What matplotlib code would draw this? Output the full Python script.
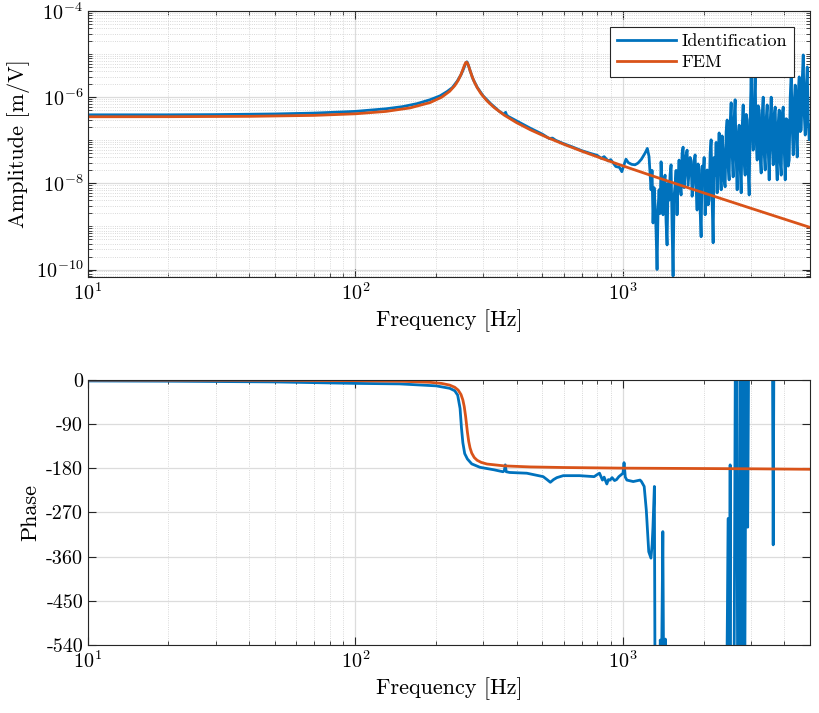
import matplotlib
matplotlib.use('Agg')
import matplotlib.pyplot as plt
import numpy as np
from matplotlib.ticker import LogLocator, NullFormatter

plt.rcParams['font.family'] = 'cmr10'
plt.rcParams['mathtext.fontset'] = 'cm'
plt.rcParams['axes.unicode_minus'] = False
plt.rcParams['axes.formatter.use_mathtext'] = True

# identification (measured) - frequency [Hz] and amplitude as log10 [m/V]
id_freq = [10, 20, 30, 50, 70, 100, 130, 150, 170, 190, 207, 220, 230, 240, 248, 254, 258, 261, 264,
           268, 275, 285, 300, 320, 345, 360, 364, 368, 400, 450, 500, 530, 545, 560, 600, 650, 700,
           750, 800, 830, 850, 880, 900, 940, 970, 990,
           1008.6, 1026.1, 1046.7, 1077.7, 1109.0, 1138.0, 1171.9, 1208.8, 1232.9, 1251.2,
           1273.0, 1284.0, 1295.1, 1306.4, 1317.7, 1329.1, 1340.6, 1352.2, 1363.9, 1375.7,
           1387.6, 1399.6, 1411.7, 1423.9, 1436.3, 1448.7, 1461.2, 1473.9, 1486.6, 1499.5,
           1512.5, 1525.6, 1538.8, 1552.1, 1565.5, 1579.1, 1592.8, 1606.6, 1620.4, 1634.5,
           1648.6, 1662.9, 1677.3, 1691.8, 1706.4, 1721.2, 1736.1, 1751.1, 1766.3, 1781.6,
           1797.0, 1812.6, 1828.2, 1844.1, 1860.0, 1876.1, 1892.3, 1908.7, 1925.2, 1941.9,
           1958.7, 1975.7, 1992.7, 2010.0, 2027.4, 2045.0, 2062.6, 2080.5, 2098.5, 2116.7,
           2135.0, 2153.5, 2172.1, 2190.9, 2209.8, 2229.0, 2248.3, 2267.8, 2287.4, 2307.2,
           2327.1, 2347.3, 2367.6, 2388.1, 2408.8, 2429.6, 2450.6, 2471.8, 2493.2, 2514.8,
           2536.6, 2558.5, 2580.7, 2603.0, 2625.5, 2648.3, 2671.2, 2694.3, 2717.6, 2741.1,
           2764.9, 2788.8, 2812.9, 2837.3, 2861.8, 2886.6, 2911.6, 2936.8, 2962.2, 2987.8,
           3013.7, 3039.8, 3066.1, 3092.6, 3119.4, 3146.4, 3173.6, 3201.1, 3228.8, 3256.7,
           3284.9, 3313.3, 3342.0, 3370.9, 3400.1, 3429.5, 3459.3, 3489.2, 3519.4, 3549.8,
           3580.6, 3611.5, 3642.9, 3674.3, 3706.2, 3738.2, 3770.6, 3803.2, 3836.2, 3869.3,
           3902.9, 3936.6, 3970.7, 4005.0, 4039.8, 4074.7, 4110.0, 4145.5, 4181.4, 4217.6,
           4254.1, 4290.9, 4328.1, 4365.5, 4403.3, 4441.4, 4479.9, 4518.6, 4557.8, 4597.2,
           4637.0, 4677.1, 4717.6, 4758.4, 4799.7, 4841.2, 4883.1, 4925.3, 4968.0, 5000]
id_amp_log = [-6.41, -6.41, -6.405, -6.39, -6.37, -6.33, -6.27, -6.22, -6.15, -6.06, -5.97, -5.87, -5.78,
              -5.63, -5.48, -5.33, -5.22, -5.18, -5.25, -5.38, -5.58, -5.77, -5.97, -6.15, -6.33, -6.40,
              -6.35, -6.43, -6.55, -6.72, -6.86, -6.96, -6.95, -7.00, -7.08, -7.16, -7.24, -7.30, -7.35,
              -7.42, -7.38, -7.48, -7.45, -7.61, -7.63, -7.73,
              -7.57, -7.44, -7.52, -7.56, -7.57, -7.53, -7.44, -7.30, -7.19, -7.38,
              -8.15, -7.70, -8.92, -8.10, -8.50, -9.10, -10.0, -8.60, -8.15, -8.70,
              -7.50, -8.05, -8.73, -7.95, -7.81, -8.90, -9.43, -8.00, -8.39, -7.80,
              -7.57, -9.00, -10.15, -8.30, -8.04, -7.70, -8.73, -7.90, -7.46, -8.05,
              -8.27, -7.30, -7.16, -8.10, -7.81, -7.35, -7.23, -8.05, -7.74, -7.40,
              -7.46, -8.30, -8.04, -7.50, -7.34, -8.10, -8.62, -7.55, -7.69, -8.60,
              -9.24, -7.60, -7.92, -7.40, -8.73, -7.85, -7.69, -8.50, -8.39, -7.30,
              -6.99, -8.40, -9.38, -7.40, -7.81, -7.05, -8.22, -7.40, -6.83, -7.70,
              -8.15, -6.90, -7.23, -7.95, -8.08, -6.80, -6.53, -7.60, -7.92, -6.60,
              -6.13, -7.30, -7.85, -6.50, -6.06, -7.40, -8.15, -6.90, -6.65, -7.60,
              -8.22, -6.70, -6.18, -7.50, -7.81, -6.40, -6.53, -7.70, -8.27, -6.50,
              -5.53, -6.80, -7.23, -6.20, -5.44, -7.00, -7.46, -6.20, -6.30, -7.40,
              -7.76, -6.40, -6.00, -7.30, -7.69, -6.50, -6.18, -7.20, -7.92, -6.60,
              -6.00, -7.10, -7.57, -6.40, -6.23, -7.40, -7.92, -6.60, -6.30, -7.50,
              -7.81, -6.40, -6.23, -7.20, -7.92, -6.50, -6.53, -7.60, -7.46, -6.00,
              -5.44, -6.70, -7.34, -6.10, -5.72, -6.90, -7.39, -5.90, -5.53, -6.80,
              -6.76, -5.60, -5.02, -6.40, -6.88, -5.80, -5.30, -6.60, -6.99, -6.65]

id_ph_freq = [10, 20, 50, 100, 146, 200, 225, 235, 241, 246, 249, 252, 256, 262, 272, 292, 329, 356, 360,
              363, 366, 377, 437, 503, 520, 535, 550, 566, 598, 688, 780, 800, 817, 838, 850, 870, 882,
              895, 910, 930, 946, 965, 980, 1000, 1009, 1020, 1034, 1092, 1158, 1172, 1200, 1222, 1248,
              1272, 1285, 1294, 1310, 1318, 1370, 1378, 1395, 1409, 1420, 1440, 1450, 2440, 2474, 2480,
              2500, 2515, 2525, 2600, 2630, 2660, 2683, 2720, 2741, 2777, 2800, 2813, 2850, 2887,
              2924, 2950, 3620, 3643, 3665, 5000]
id_phase = [-2, -2.5, -4, -7, -8, -12, -17, -22, -31, -58, -98, -128, -150, -161, -171, -178, -183, -187,
            -185, -173, -187, -188.5, -190, -197, -203, -208.5, -203, -199, -195, -195, -197, -193, -190,
            -204, -198, -212, -203, -204, -199, -205, -203, -197, -194, -190, -168.5, -198, -204,
            -207, -204, -207, -217, -265, -350, -363, -335, -300, -217, -650, -650, -530, -560, -309,
            -650, -528, -650, -650, -282, -650, -650, -173, -650, -650, 60, 60, -650, -650, 60, -650,
            -650, 60, -650, 60, -300, 60, 60, -336, 60, 60]

# FEM model
fem_freq = [10, 20, 40, 70, 100, 130, 160, 190, 210, 225, 235, 242, 248, 252, 255, 258, 260, 262, 265,
            268, 272, 278, 285, 295, 310, 330, 360, 400, 450, 520, 600, 700, 850, 1000, 1300, 1700,
            2200, 3000, 4000, 5000]
fem_amp = [3.505e-7, 3.521e-7, 3.585e-7, 3.774e-7, 4.11e-7, 4.667e-7, 5.633e-7, 7.48e-7, 9.99e-7,
           1.370e-6, 1.847e-6, 2.449e-6, 3.370e-6, 4.371e-6, 5.364e-6, 6.28e-6, 6.481e-6, 6.188e-6,
           5.196e-6, 4.183e-6, 3.180e-6, 2.266e-6, 1.666e-6, 1.191e-6, 8.207e-7, 5.726e-7, 3.816e-7,
           2.561e-7, 1.754e-7, 1.167e-7, 8.09e-8, 5.601e-8, 3.613e-8, 2.538e-8, 1.458e-8, 8.383e-9,
           4.958e-9, 2.649e-9, 1.485e-9, 9.49e-10]
fem_ph_freq = [10, 50, 100, 150, 190, 210, 225, 235, 242, 248, 252, 255, 258, 260, 262, 265, 268, 272,
               278, 285, 295, 310, 360, 450, 600, 1000, 2000, 3000, 5000]
fem_phase = [-0.1, -0.6, -1.4, -2.7, -4.8, -7.1, -10.5, -14.9, -20.6, -29.7, -40.8, -54.3, -74.0, -90,
             -105.9, -125.2, -138.3, -149.1, -158.1, -163.7, -167.9, -171.3, -175.1, -177.2, -178.4,
             -179.7, -180.5, -181.0, -182.0]

phase_ticks = [-540, -450, -360, -270, -180, -90, 0]
phase_labels = ['-540', '-450', '-360', '-270', '-180', '-90', '0']

blue = '#0072BD'
orange = '#D95319'

fig = plt.figure(figsize=(8.19, 7.13), dpi=100)
ax1 = fig.add_axes([0.1074, 0.6115, 0.8816, 0.3731])
ax2 = fig.add_axes([0.1074, 0.0954, 0.8816, 0.3717])

ax1.plot(id_freq, 10.0 ** np.array(id_amp_log), color=blue, lw=2.0, label='Identification')
ax1.plot(fem_freq, fem_amp, color=orange, lw=2.0, label='FEM')
ax1.set_xscale('log')
ax1.set_yscale('log')
ax1.set_xlim(10, 5000)
ax1.set_ylim(6.7e-11, 1e-4)
ax1.set_yticks([1e-10, 1e-8, 1e-6, 1e-4])
ax1.yaxis.set_minor_locator(LogLocator(base=10, subs=np.arange(1, 10), numticks=100))
ax1.yaxis.set_minor_formatter(NullFormatter())
ax1.set_xlabel('Frequency [Hz]', fontsize=16)
ax1.set_ylabel('Amplitude [m/V]', fontsize=16)

ax2.plot(id_ph_freq, id_phase, color=blue, lw=2.0)
ax2.plot(fem_ph_freq, fem_phase, color=orange, lw=2.0)
ax2.set_xscale('log')
ax2.set_xlim(10, 5000)
ax2.set_ylim(-540, 0)
ax2.set_yticks(phase_ticks)
ax2.set_yticklabels(phase_labels)
ax2.set_xlabel('Frequency [Hz]', fontsize=16)
ax2.set_ylabel('Phase', fontsize=16)

for ax in (ax1, ax2):
    ax.set_axisbelow(True)
    ax.grid(True, which='major', color='#dcdcdc', linewidth=0.9, linestyle='-')
    ax.xaxis.grid(True, which='minor', color='#cccccc', linewidth=0.6, linestyle=':')
    ax.xaxis.set_minor_formatter(NullFormatter())
    ax.tick_params(which='both', direction='in', top=True, right=True, labelsize=14.5, color='#262626')
    ax.tick_params(which='major', length=6)
    ax.tick_params(which='minor', length=3)
    for s in ax.spines.values():
        s.set_color('#262626')
        s.set_linewidth(0.8)
ax1.yaxis.grid(True, which='minor', color='#cccccc', linewidth=0.6, linestyle=':')

leg = ax1.legend(loc='upper right', fontsize=13, frameon=True, fancybox=False, edgecolor='#262626',
                 framealpha=1, borderaxespad=0.9, handlelength=3.3, borderpad=0.35,
                 labelspacing=0.3, handletextpad=0.3)
leg.get_frame().set_linewidth(0.8)

fig.savefig('out.png', dpi=100)
